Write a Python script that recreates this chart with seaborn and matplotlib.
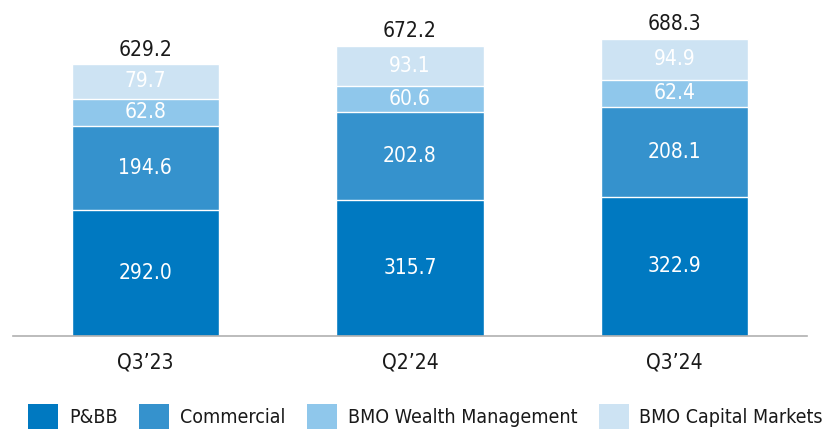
import numpy as np
import pandas as pd
import matplotlib.pyplot as plt
import seaborn as sns
from matplotlib.patches import Patch

quarters = ["Q3\u201923", "Q2\u201924", "Q3\u201924"]
segments = ["P&BB", "Commercial", "BMO Wealth Management", "BMO Capital Markets"]
pbb = [292.0, 315.7, 322.9]
commercial = [194.6, 202.8, 208.1]
wealth = [62.8, 60.6, 62.4]
capital = [79.7, 93.1, 94.9]
totals = [629.2, 672.2, 688.3]

colors = ["#0079C1", "#3592CD", "#8FC7EB", "#CDE3F3"]

sns.set_style("white")
plt.rcParams['font.family'] = ['DejaVu Sans']
plt.rcParams['font.stretch'] = 'condensed'

fig = plt.figure(figsize=(8.34, 4.30), dpi=100)
ax = fig.add_axes([13/834, 94/430, 794/834, 324/430])

vals = np.array([pbb, commercial, wealth, capital])
cum = vals.cumsum(axis=0)

# draw from the tallest stack down so each layer covers the one below
for i in range(3, -1, -1):
    df = pd.DataFrame({"quarter": quarters, "value": cum[i]})
    sns.barplot(data=df, x="quarter", y="value", color=colors[i], saturation=1,
                width=0.556, edgecolor="white", linewidth=1, ax=ax)

for j in range(3):
    for i in range(4):
        mid = cum[i][j] - vals[i][j] / 2
        ax.text(j, mid, f"{vals[i][j]:.1f}", ha="center", va="center",
                color="white", fontsize=15)
    ax.text(j, totals[j] + 10, f"{totals[j]:.1f}", ha="center", va="bottom",
            color="#1a1a1a", fontsize=15)

ax.set_xlim(-0.5, 2.5)
ax.set_ylim(0, 750)
ax.set_xlabel("")
ax.set_ylabel("")
ax.set_yticks([])
ax.tick_params(axis="x", length=0, labelsize=15, pad=12, colors="#1a1a1a")
for s in ['left', 'right', 'top']:
    ax.spines[s].set_visible(False)
ax.spines['bottom'].set_color("#b0b0b0")
ax.spines['bottom'].set_linewidth(1.2)

handles = [Patch(facecolor=c, edgecolor="none") for c in colors]
fig.legend(handles, segments, loc="lower left", bbox_to_anchor=(0.013, -0.038),
           ncol=4, frameon=False, fontsize=14, handlelength=1.55, handleheight=1.6,
           handletextpad=0.55, columnspacing=1.1, labelcolor="#1a1a1a")

fig.savefig("out.png", dpi=100)
